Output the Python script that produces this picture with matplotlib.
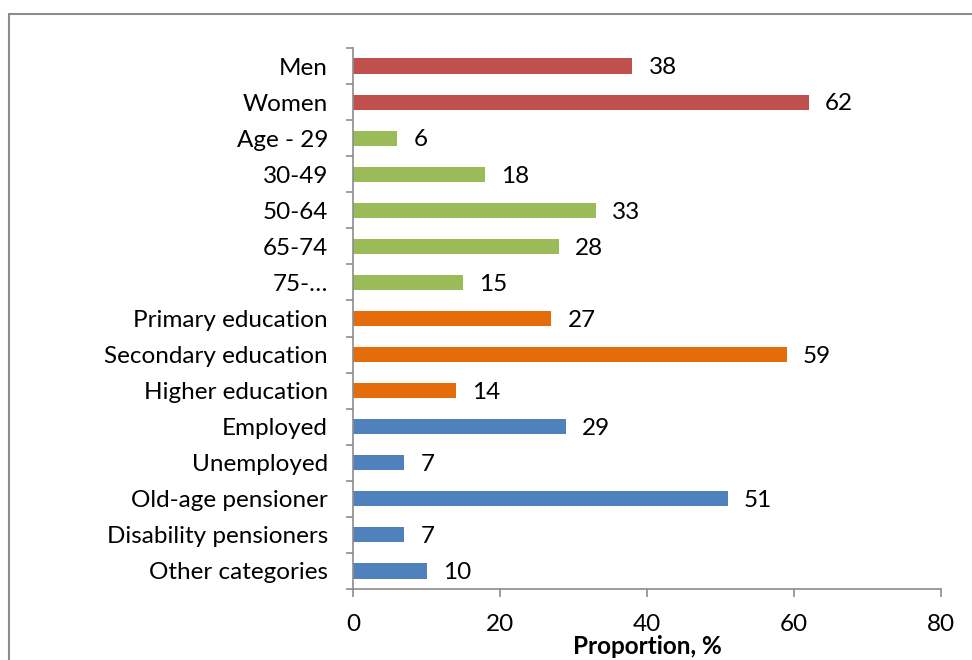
import matplotlib.pyplot as plt
from matplotlib.patches import Rectangle

categories = [
    "Men", "Women", "Age - 29", "30-49", "50-64", "65-74", "75-\u2026",
    "Primary education", "Secondary education", "Higher education",
    "Employed", "Unemployed", "Old-age pensioner", "Disability pensioners",
    "Other categories",
]
values = [38, 62, 6, 18, 33, 28, 15, 27, 59, 14, 29, 7, 51, 7, 10]
groups = ["sex"] * 2 + ["age"] * 5 + ["edu"] * 3 + ["work"] * 5
group_colors = {"sex": "#C0504D", "age": "#9BBB59", "edu": "#E46C0A", "work": "#4F81BD"}

plt.rcParams["font.family"] = ["Lato", "DejaVu Sans"]
FS = 17.5

fig = plt.figure(figsize=(9.72, 6.6), dpi=100)
ax = fig.add_axes([0.3632, 0.1076, 0.6049, 0.8197])

# outer chart frame (partly cut off at right/bottom)
fig.patches.append(Rectangle((9 / 972, -0.1), 1.2, 1 - 14 / 660 + 0.1,
                             transform=fig.transFigure, fill=False,
                             edgecolor="#8c8c8c", linewidth=1.5))

y = list(range(len(categories)))
colors = [group_colors[g] for g in groups]
ax.barh(y, values, height=0.42, color=colors)

for yi, v in zip(y, values):
    ax.text(v + 2.2, yi + 0.05, str(v), va="center", ha="left", fontsize=FS, color="black")

ax.set_ylim(len(categories) - 0.5, -0.5)
ax.set_yticks(y)
ax.set_yticklabels(categories, fontsize=FS)
ax.set_yticks([i - 0.5 for i in range(len(categories) + 1)], minor=True)
ax.tick_params(axis="y", which="major", length=0, pad=18)
ax.tick_params(axis="y", which="minor", length=5, color="#8c8c8c", width=1.2)

ax.set_xlim(0, 80)
ax.set_xticks([0, 20, 40, 60, 80])
ax.tick_params(axis="x", length=6, color="#8c8c8c", width=1.2, labelsize=FS, pad=12)
ax.set_xlabel("Proportion, %", fontsize=17.5, fontweight="bold", labelpad=0)

for s in ["top", "right"]:
    ax.spines[s].set_visible(False)
for s in ["left", "bottom"]:
    ax.spines[s].set_color("#8c8c8c")
    ax.spines[s].set_linewidth(1.2)

plt.savefig("out.png", dpi=100)
